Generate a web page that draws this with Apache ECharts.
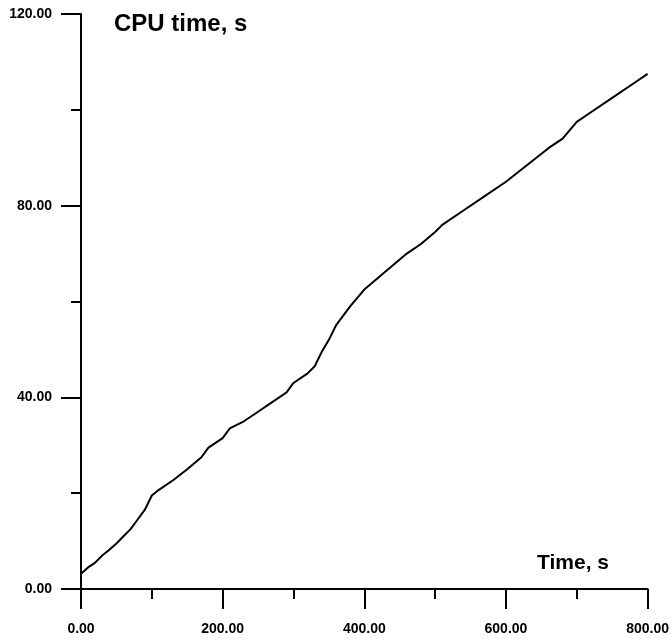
<!DOCTYPE html>
<html>
<head>
<meta charset="utf-8">
<script src="https://cdn.jsdelivr.net/npm/echarts@6/dist/echarts.min.js"></script>
<style>
  html, body { margin: 0; padding: 0; background: #fff; }
  #chart { width: 672px; height: 639px; }
</style>
</head>
<body>
<div id="chart"></div>
<script>
// Simulated time (s) and accumulated CPU time (s)
const simTime = [0, 10, 20, 30, 40, 50, 60, 70, 80, 90, 100, 110, 130, 150, 170, 180, 190, 200, 210,
  230, 250, 270, 290, 300, 320, 330, 340, 350, 360, 380, 400, 420, 440, 460, 480, 500, 510, 540,
  570, 600, 630, 660, 680, 700, 720, 750, 780, 800];
const cpuTime = [3.2, 4.5, 5.5, 7.0, 8.2, 9.5, 11.0, 12.5, 14.5, 16.5, 19.5, 20.7, 22.7, 25.0, 27.5,
  29.5, 30.5, 31.5, 33.5, 35.0, 37.0, 39.0, 41.0, 43.0, 45.0, 46.5, 49.5, 52.0, 55.0, 59.0, 62.5,
  65.0, 67.5, 70.0, 72.0, 74.5, 76.0, 79.0, 82.0, 85.0, 88.5, 92.0, 94.0, 97.5, 99.5, 102.5,
  105.5, 107.5];

const xTicks = [0, 200, 400, 600, 800];
const yTicks = [0, 40, 80, 120];

const font = '"Liberation Sans", Arial, sans-serif';
const ink = '#000';

const chart = echarts.init(document.getElementById('chart'), null, { renderer: 'canvas' });

const axisCommon = {
  axisLine: { show: true, onZero: false, lineStyle: { color: ink, width: 2 } },
  axisTick: { show: true, inside: false, length: 20, lineStyle: { color: ink, width: 2 } },
  minorTick: { show: true, splitNumber: 2, length: 10, lineStyle: { color: ink, width: 2 } },
  splitLine: { show: false },
  axisLabel: {
    color: ink, fontFamily: font, fontWeight: 'bold', fontSize: 14,
    formatter: v => v.toFixed(2)
  }
};

chart.setOption({
  animation: false,
  backgroundColor: '#fff',
  grid: { left: 81, right: 20, top: 14, bottom: 50, containLabel: false },
  xAxis: Object.assign({}, axisCommon, {
    type: 'value', min: xTicks[0], max: xTicks[xTicks.length - 1], interval: 200,
    axisLabel: Object.assign({}, axisCommon.axisLabel, { margin: 33 })
  }),
  yAxis: Object.assign({}, axisCommon, {
    type: 'value', min: yTicks[0], max: yTicks[yTicks.length - 1], interval: 40,
    axisLabel: Object.assign({}, axisCommon.axisLabel, { margin: 29 })
  }),
  graphic: [
    {
      type: 'text', left: 114, top: 12,
      style: { text: 'CPU time, s', font: 'bold 24px ' + font, fill: ink }
    },
    {
      type: 'text', right: 63, top: 553,
      style: { text: 'Time, s', font: 'bold 21px ' + font, fill: ink }
    }
  ],
  series: [{
    type: 'line',
    data: simTime.map((t, i) => [t, cpuTime[i]]),
    showSymbol: false,
    smooth: false,
    lineStyle: { color: ink, width: 2 }
  }]
});
</script>
</body>
</html>
